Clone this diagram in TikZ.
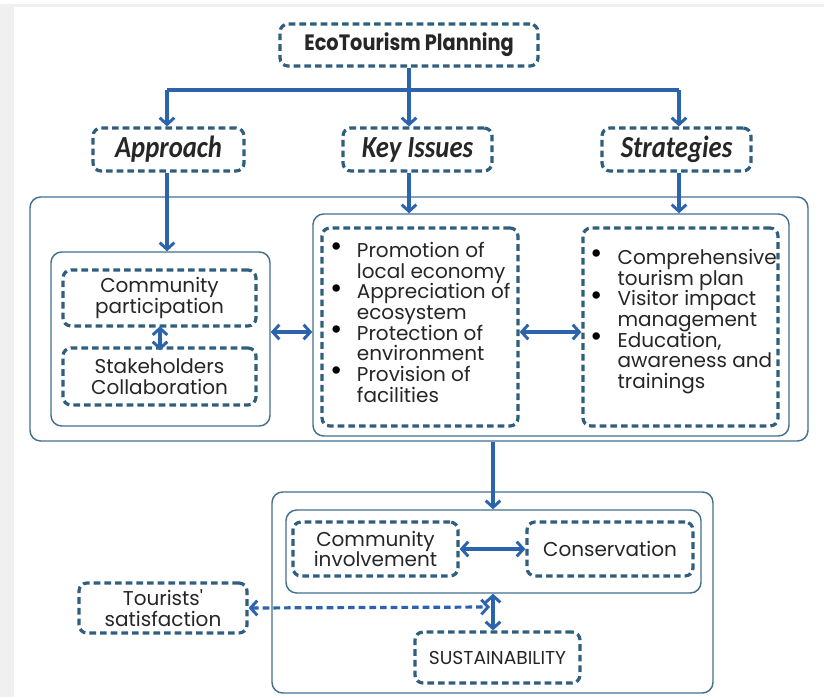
\documentclass[tikz,border=0pt]{standalone}
\usepackage{fontspec}
\usepackage{graphicx}
\setmainfont{Poppins}
\newfontfamily\hdfont{Carlito}
\usetikzlibrary{arrows.meta}
\definecolor{dashc}{HTML}{2F5F7D}
\definecolor{arrc}{HTML}{2B64AC}
\definecolor{boxc}{HTML}{44708E}
\definecolor{txtc}{HTML}{262626}
\definecolor{framec}{HTML}{F0F0F0}
\newcommand{\bodyfs}{\fontsize{15}{15.5}\selectfont}
\newcommand{\hd}[1]{\scalebox{1}[1.15]{\hdfont\bfseries\itshape\fontsize{20}{20}\selectfont #1}}
\newcommand{\bl}[1]{\makebox[#1][l]{\raisebox{0.5pt}{\color{black}\scalebox{1.5}{•}}}}
\begin{document}
\begin{tikzpicture}[x=0.75pt,y=-0.75pt,
  bx/.style args={#1/#2/#3/#4}{at={({(#1+#3)/2},{(#2+#4)/2})},
    minimum width={(#3-#1)*0.75pt}, minimum height={(#4-#2)*0.75pt}},
  dbox/.style={draw=dashc, line width=2.4pt, dash pattern=on 5pt off 3pt,
    rounded corners=6pt, inner sep=0pt, align=center, font=\bodyfs, text=txtc},
  cbox/.style={draw=boxc, line width=1.1pt, rounded corners=8pt, inner sep=0pt},
  arr/.style={draw=arrc, line width=2.4pt,
    -{Straight Barb[length=5pt,width=11pt,line width=2.2pt]}},
  darr/.style={draw=arrc, line width=2.4pt,
    {Straight Barb[length=5pt,width=11pt,line width=2.2pt]}-{Straight Barb[length=5pt,width=11pt,line width=2.2pt]}},
  lst/.style={inner sep=0pt, align=left, font=\bodyfs, text=txtc, anchor=north west}
]
\useasboundingbox (0,0) rectangle (824,697);
\fill[white] (0,0) rectangle (824,697);
\fill[framec] (0,4) rectangle (14,697);
\fill[framec] (0,4) rectangle (824,7);

% top level
\node[dbox, bx=280/24/538/66] (title)
  {\scalebox{1}[1.15]{\fontsize{14.5}{14.5}\selectfont\bfseries EcoTourism Planning}};
\node[dbox, bx=93/128/244/171] (appr) {\hd{Approach}};
\node[dbox, bx=343/128/492/171] (keyi) {\hd{Key Issues}};
\node[dbox, bx=602/128/751/171] (strat) {\hd{Strategies}};

\coordinate (jc) at (title.south |- 0,90);
\coordinate (jl) at (167,90);
\coordinate (jr) at (679,90);
\draw[draw=arrc, line width=2.4pt] (title.south) -- (jc);
\draw[draw=arrc, line width=2.4pt] (jl) -- (jr);
\draw[arr] (jl) -- (jl |- appr.north);
\draw[arr] (jc) -- (jc |- keyi.north);
\draw[arr] (jr) -- (jr |- strat.north);

% big container
\node[cbox, bx=30/197/808/441] (big) {};
\node[cbox, bx=51/252/270/426] (left) {};
\node[cbox, bx=313/214/789/436] (mid) {};

\draw[arr] (jl |- appr.south) -- (jl |- left.north);
\draw[arr] (jc |- keyi.south) -- (jc |- mid.north);
\draw[arr] (jr |- strat.south) -- (jr |- mid.north);

\node[dbox, bx=63/270/256/326] (cp) {Community\\participation};
\node[dbox, bx=63/348/256/405] (sc) {Stakeholders\\Collaboration};
\draw[darr] ([yshift=1pt]cp.south -| 160,0) -- ([yshift=-3pt]sc.north -| 160,0);

\node[dbox, bx=322/228/518/426] (ki) {};
\node[dbox, bx=583/228/778/426] (st) {};
\coordinate (ly) at (0,332);
\draw[darr] (left.east |- ly) -- (mid.west |- ly);
\draw[darr] (ki.east |- ly) -- (st.west |- ly);

\node[lst] (kitext) at (330,242) {%
\bl{20pt}Promotion of\\ \hspace*{20pt}local economy\\
\bl{20pt}Appreciation of\\ \hspace*{20pt}ecosystem\\
\bl{20pt}Protection of\\ \hspace*{20pt}environment\\
\bl{20pt}Provision of\\ \hspace*{20pt}facilities};
\node[lst] (sttext) at (590,249) {%
\bl{20.5pt}Comprehensive\\ \hspace*{20.5pt}tourism plan\\
\bl{20.5pt}Visitor impact\\ \hspace*{20.5pt}management\\
\bl{20.5pt}Education,\\ \hspace*{20.5pt}awareness and\\ \hspace*{20.5pt}trainings};

% bottom
\node[cbox, bx=272/492/713/693] (bot) {};
\node[cbox, bx=286/510/701/593] (ibot) {};
\draw[arr] (big.south -| 493,0) -- (ibot.north -| 493,0);

\node[dbox, bx=293/522/458/576] (ci) {Community\\involvement};
\node[dbox, bx=527/522/693/576] (cons) {Conservation};
\draw[darr] (ci.east) -- (cons.west);

\node[dbox, bx=415/632/580/683] (sust) {\fontsize{14}{14}\selectfont SUSTAINABILITY};
\draw[darr] (ibot.south -| 493,0) -- (sust.north -| 493,0);

\node[dbox, bx=79/583/247/633] (tour) {Tourists\textquotesingle\\satisfaction};
\coordinate (tend) at (490,607);
\draw[darr, dash pattern=on 5pt off 3pt] (tour.east) -- (tend);
\end{tikzpicture}
\end{document}
